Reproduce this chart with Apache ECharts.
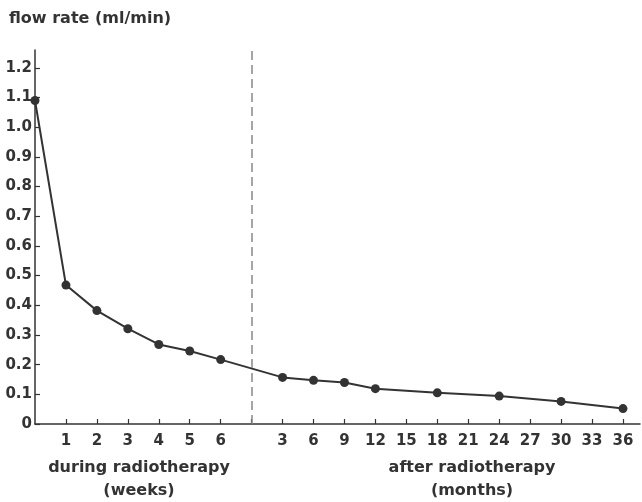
<!DOCTYPE html>
<html>
<head>
<meta charset="utf-8">
<script src="https://cdn.jsdelivr.net/npm/echarts@6/dist/echarts.min.js"></script>
<style>
html,body{margin:0;padding:0;background:#fff;}
#chart{width:642px;height:502px;}
</style>
</head>
<body>
<div id="chart"></div>
<script>
// ---- data ----
var weekTicks = ['1', '2', '3', '4', '5', '6'];
var monthTicks = ['3', '6', '9', '12', '15', '18', '21', '24', '27', '30', '33', '36'];
var duringWeeks = [0, 1, 2, 3, 4, 5, 6];
var duringFlow = [1.09, 0.468, 0.382, 0.321, 0.268, 0.246, 0.217];
var afterMonths = [3, 6, 9, 12, 18, 24, 30, 36];
var afterFlow = [0.157, 0.147, 0.140, 0.119, 0.105, 0.094, 0.076, 0.052];
var yTicks = [0, 0.1, 0.2, 0.3, 0.4, 0.5, 0.6, 0.7, 0.8, 0.9, 1.0, 1.1, 1.2];

// ---- slots on the x axis: weeks 0..6, a gap slot, then one slot per 3 months ----
var gapSlot = weekTicks.length + 1;
function monthSlot(m) { return gapSlot + m / 3; }

var points = [];
duringWeeks.forEach(function (w, i) { points.push([w, duringFlow[i]]); });
afterMonths.forEach(function (m, i) { points.push([monthSlot(m), afterFlow[i]]); });

var labelSlots = [];
weekTicks.forEach(function (t, i) { labelSlots.push(i + 1); });
monthTicks.forEach(function (t, i) { labelSlots.push(gapSlot + i + 1); });
var tickSlots = labelSlots.concat([gapSlot]);

var ink = '#333';
var font = '"DejaVu Sans", Verdana, sans-serif';

var chart = echarts.init(document.getElementById('chart'));
chart.setOption({
  animation: false,
  backgroundColor: '#fff',
  grid: { left: 35, right: 2, top: 50, bottom: 78 },
  xAxis: {
    type: 'value',
    min: 0,
    max: 19.55,
    axisLine: { show: true, onZero: false, lineStyle: { color: ink, width: 1.5 } },
    axisTick: { show: true, inside: true, length: 5, customValues: tickSlots, lineStyle: { color: ink, width: 1.2 } },
    axisLabel: {
      customValues: labelSlots,
      margin: 10,
      color: ink,
      fontSize: 15,
      fontWeight: 'bold',
      fontFamily: font,
      formatter: function (v) {
        v = Math.round(v);
        if (v < gapSlot) return weekTicks[v - 1];
        return monthTicks[v - gapSlot - 1];
      }
    },
    splitLine: { show: false }
  },
  yAxis: {
    type: 'value',
    min: 0,
    max: 1.26,
    axisLine: { show: true, lineStyle: { color: ink, width: 1.5 } },
    axisTick: { show: true, inside: true, length: 5, customValues: yTicks, lineStyle: { color: ink, width: 1.2 } },
    axisLabel: {
      customValues: yTicks,
      margin: 3,
      color: ink,
      fontSize: 15,
      fontWeight: 'bold',
      fontFamily: font,
      formatter: function (v) { return v === 0 ? '0' : v.toFixed(1); }
    },
    splitLine: { show: false }
  },
  series: [{
    type: 'line',
    data: points,
    symbol: 'circle',
    symbolSize: 9,
    lineStyle: { color: ink, width: 2 },
    itemStyle: { color: ink },
    markLine: {
      silent: true,
      symbol: 'none',
      label: { show: false },
      lineStyle: { color: '#888', type: [9, 5], width: 1.5 },
      data: [{ xAxis: gapSlot }]
    }
  }],
  graphic: [
    { type: 'text', left: 9, top: 11, style: { text: 'flow rate (ml/min)', fill: ink, font: 'bold 16px ' + font } },
    { type: 'text', x: 139, y: 468, style: { text: 'during radiotherapy', fill: ink, font: 'bold 16px ' + font, textAlign: 'center', textVerticalAlign: 'middle' } },
    { type: 'text', x: 139, y: 491, style: { text: '(weeks)', fill: ink, font: 'bold 16px ' + font, textAlign: 'center', textVerticalAlign: 'middle' } },
    { type: 'text', x: 472, y: 468, style: { text: 'after radiotherapy', fill: ink, font: 'bold 16px ' + font, textAlign: 'center', textVerticalAlign: 'middle' } },
    { type: 'text', x: 472, y: 491, style: { text: '(months)', fill: ink, font: 'bold 16px ' + font, textAlign: 'center', textVerticalAlign: 'middle' } }
  ]
});
</script>
</body>
</html>
